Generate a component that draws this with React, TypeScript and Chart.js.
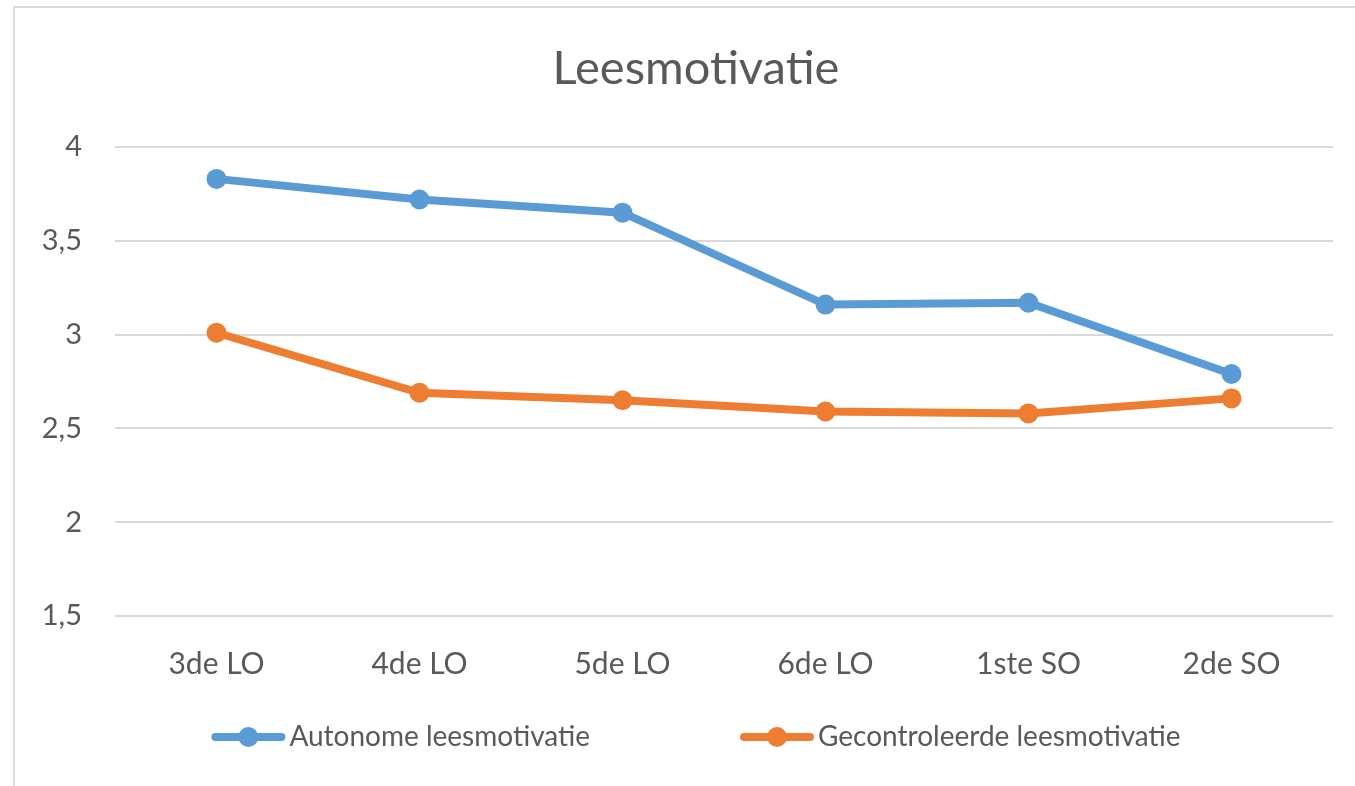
import React, { useEffect, useRef } from "react";
import { Chart, registerables } from "chart.js";

Chart.register(...registerables);

const categories = ["3de LO", "4de LO", "5de LO", "6de LO", "1ste SO", "2de SO"];
const autonomeValues = [3.83, 3.72, 3.65, 3.16, 3.17, 2.79];
const gecontroleerdeValues = [3.01, 2.69, 2.65, 2.59, 2.58, 2.66];
const seriesLabels = ["Autonome leesmotivatie", "Gecontroleerde leesmotivatie"];
const seriesColors = ["#5B9BD5", "#ED7D31"];
const chartTitle = "Leesmotivatie";

const FONT = "Lato, 'Open Sans', sans-serif";
const TEXT = "#595959";

const centeredTitle = {
  id: "centeredTitle",
  afterDraw(chart: any) {
    const ctx = chart.ctx;
    ctx.save();
    ctx.font = `47px ${FONT}`;
    ctx.fillStyle = TEXT;
    ctx.textAlign = "center";
    ctx.textBaseline = "middle";
    ctx.fillText(chartTitle, chart.width / 2, 61);
    ctx.restore();
  },
};

const customLegend = {
  id: "customLegend",
  afterDraw(chart: any) {
    const ctx = chart.ctx;
    const fontSize = 28;
    const lineLen = 74;
    const textGap = 4;
    const itemGap = 150;
    ctx.save();
    ctx.font = `${fontSize}px ${FONT}`;
    const items = chart.data.datasets.map((d: any) => ({
      label: d.label,
      color: d.borderColor,
      w: lineLen + textGap + ctx.measureText(d.label).width,
    }));
    const total = items.reduce((s: number, it: any) => s + it.w, 0) + itemGap * (items.length - 1);
    let x = chart.width / 2 - total / 2;
    const y = chart.chartArea.bottom + 121;
    items.forEach((it: any) => {
      ctx.strokeStyle = it.color;
      ctx.lineWidth = 8;
      ctx.lineCap = "round";
      ctx.beginPath();
      ctx.moveTo(x + 4, y);
      ctx.lineTo(x + lineLen - 4, y);
      ctx.stroke();
      ctx.fillStyle = it.color;
      ctx.beginPath();
      ctx.arc(x + lineLen / 2, y, 10, 0, Math.PI * 2);
      ctx.fill();
      ctx.fillStyle = TEXT;
      ctx.textBaseline = "middle";
      ctx.textAlign = "left";
      ctx.fillText(it.label, x + lineLen + textGap, y);
      x += it.w + itemGap;
    });
    ctx.restore();
  },
};

export default function App() {
  const ref = useRef<HTMLCanvasElement | null>(null);
  useEffect(() => {
    if (!ref.current) return;
    const chart = new Chart(ref.current, {
      type: "line",
      data: {
        labels: categories,
        datasets: [
          {
            label: seriesLabels[0],
            data: autonomeValues,
            borderColor: seriesColors[0],
            backgroundColor: seriesColors[0],
            borderWidth: 8,
            pointRadius: 10,
            pointBackgroundColor: seriesColors[0],
            pointBorderWidth: 0,
            tension: 0,
          },
          {
            label: seriesLabels[1],
            data: gecontroleerdeValues,
            borderColor: seriesColors[1],
            backgroundColor: seriesColors[1],
            borderWidth: 8,
            pointRadius: 10,
            pointBackgroundColor: seriesColors[1],
            pointBorderWidth: 0,
            tension: 0,
          },
        ],
      },
      options: {
        animation: false,
        responsive: false,
        maintainAspectRatio: false,
        layout: { padding: { left: 0, right: 44, top: 139, bottom: 88 } },
        plugins: {
          legend: { display: false },
          tooltip: { enabled: false },
          title: { display: false },
        },
        scales: {
          x: {
            offset: true,
            grid: { display: false },
            border: { display: false },
            ticks: {
              color: TEXT,
              font: { family: FONT, size: 30 },
              padding: 22,
              maxRotation: 0,
            },
            afterFit(axis: any) {
              axis.height = 80;
            },
          },
          y: {
            min: 1.5,
            max: 4,
            grid: { color: "#D9D9D9", lineWidth: 2, drawTicks: false },
            border: { display: false },
            ticks: {
              stepSize: 0.5,
              color: TEXT,
              font: { family: FONT, size: 29 },
              padding: 33,
              callback: (v: any) => String(v).replace(".", ","),
            },
            afterFit(axis: any) {
              axis.width = 100;
            },
          },
        },
      },
      plugins: [centeredTitle, customLegend],
    });
    return () => chart.destroy();
  }, []);

  return (
    <div style={{ position: "absolute", left: 0, top: 0, width: 1355, height: 786, overflow: "hidden", background: "#fff" }}>
      <div
        style={{
          position: "absolute",
          left: 13,
          top: 6,
          width: 1366,
          height: 800,
          border: "2px solid #D9D9D9",
          boxSizing: "border-box",
        }}
      >
        <canvas ref={ref} width={1362} height={776} style={{ display: "block", width: 1362, height: 776 }} />
      </div>
    </div>
  );
}
